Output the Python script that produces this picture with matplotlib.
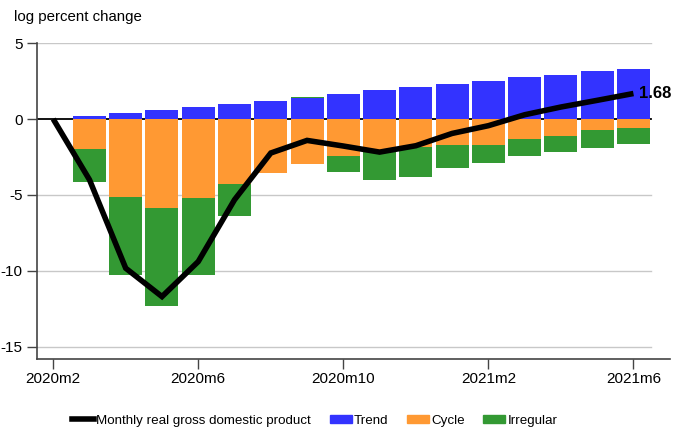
import numpy as np
import matplotlib
matplotlib.use('Agg')
import matplotlib.pyplot as plt
from matplotlib.patches import Patch
from matplotlib.lines import Line2D

plt.rcParams['font.family'] = ['Liberation Sans', 'DejaVu Sans']

months = ['2020m2', '2020m3', '2020m4', '2020m5', '2020m6', '2020m7', '2020m8', '2020m9',
          '2020m10', '2020m11', '2020m12', '2021m1', '2021m2', '2021m3', '2021m4', '2021m5', '2021m6']
gdp = [0.0, -4.0, -9.83, -11.70, -9.39, -5.32, -2.24, -1.41, -1.78, -2.18, -1.76, -0.95,
       -0.44, 0.28, 0.79, 1.23, 1.68]
# components start at 2020m3
trend = [0.22, 0.42, 0.62, 0.81, 1.01, 1.21, 1.40, 1.67, 1.89, 2.09, 2.28, 2.48, 2.75, 2.92, 3.14, 3.32]
cycle = [-1.96, -5.12, -5.85, -5.19, -4.26, -3.54, -2.95, -2.42, -2.17, -1.87, -1.74, -1.74,
         -1.34, -1.10, -0.75, -0.57]
irregular = [-2.22, -5.13, -6.45, -5.06, -2.10, 0.0, 0.07, -1.07, -1.88, -1.98, -1.52, -1.19,
             -1.12, -1.10, -1.19, -1.10]

blue, orange, green = '#3333ff', '#ff9933', '#339933'

fig = plt.figure(figsize=(6.89, 4.29), dpi=100)
ax = fig.add_axes([0.053, 0.1625, 0.919, 0.737])

x = np.arange(len(months))
xb = x[1:]
pos = np.zeros(len(xb))
neg = np.zeros(len(xb))
for vals, col in [(trend, blue), (cycle, orange), (irregular, green)]:
    v = np.array(vals)
    bottom = np.where(v >= 0, pos, neg)
    ax.bar(xb, v, width=0.91, bottom=bottom, color=col, linewidth=0, zorder=2)
    pos = pos + np.where(v >= 0, v, 0)
    neg = neg + np.where(v < 0, v, 0)

xmin, xmax = -0.46, 17.0
gx = (16.48 - xmin) / (xmax - xmin)
for yv in [5, -5, -10, -15]:
    ax.axhline(yv, xmax=gx, color='#c8c8c8', lw=1, zorder=1)
ax.axhline(0, xmax=gx, color='black', lw=1.3, zorder=1.5)

ax.plot(x, gdp, color='black', lw=4, zorder=3, solid_capstyle='butt', solid_joinstyle='miter')
ax.text(x[-1] + 0.15, gdp[-1], '%.2f' % gdp[-1], fontsize=12, fontweight='bold',
        va='center', ha='left', zorder=4)

ax.set_xlim(xmin, xmax)
ax.set_ylim(-15.83, 5)
ax.set_yticks([5, 0, -5, -10, -15])
ax.set_yticklabels(['5', '0', '-5', '-10', '-15'])
ax.set_xticks(x[::4])
ax.set_xticklabels(months[::4])
ax.tick_params(labelsize=11, length=7, width=1, color='#444444', pad=2)
ax.tick_params(axis='y', pad=3)
for s in ['top', 'right']:
    ax.spines[s].set_visible(False)
for s in ['left', 'bottom']:
    ax.spines[s].set_color('#444444')
    ax.spines[s].set_linewidth(1.2)

fig.text(0.02, 0.96, 'log percent change', fontsize=10.8, va='center', ha='left')

handles = [Line2D([], [], color='black', lw=4),
           Patch(color=blue), Patch(color=orange), Patch(color=green)]
labels = ['Monthly real gross domestic product', 'Trend', 'Cycle', 'Irregular']
fig.legend(handles, labels, loc='center', bbox_to_anchor=(0.457, 0.019), ncol=4, frameon=False,
           fontsize=9.6, handlelength=1.65, handleheight=0.6, handletextpad=0.15, columnspacing=1.4)

plt.savefig('out.png', dpi=100)
